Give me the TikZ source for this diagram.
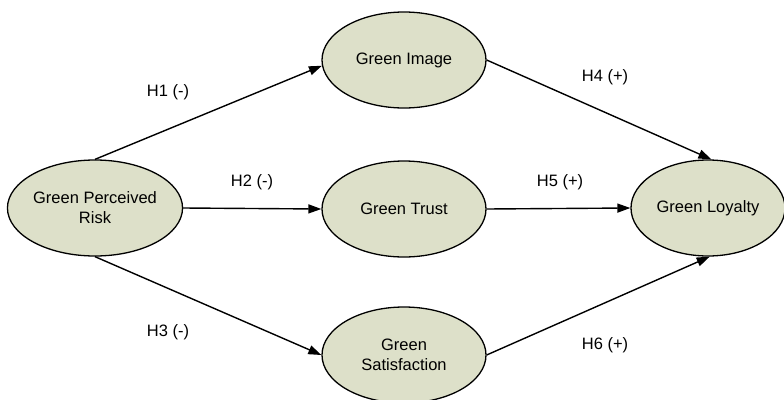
\documentclass[tikz,border=0pt]{standalone}
\usepackage{fontspec}
\setmainfont{Liberation Sans}
\usetikzlibrary{shapes.geometric,arrows.meta}
\definecolor{ellfill}{RGB}{221,224,201}
\begin{document}
\begin{tikzpicture}[x=1pt,y=-1pt,
  construct/.style={ellipse,draw=black,line width=1.3pt,fill=ellfill,inner sep=0pt,
    minimum width=164pt,minimum height=96pt,align=center,
    font=\fontsize{16.5}{20}\selectfont},
  link/.style={line width=1.4pt,-{Triangle[length=13pt,width=9pt]}},
  hyp/.style={font=\fontsize{16.5}{20}\selectfont}]
\useasboundingbox (0,0) rectangle (784,399);
\node[construct] (gpr) at (95,208) {Green Perceived\\Risk};
\node[construct] (img) at (404,60) {Green Image};
\node[construct] (trust) at (404,209) {Green Trust};
\node[construct] (sat) at (404,355) {Green\\Satisfaction};
\node[construct,minimum width=154pt] (loy) at (708,208) {Green Loyalty};
\draw[link] (gpr.north) -- (img.184);
\draw[link] (gpr.east) -- (trust.west);
\draw[link] (gpr.south) -- (sat.west);
\draw[link] (img.east) -- (loy.86);
\draw[link] (trust.east) -- (loy.west);
\draw[link] (sat.east) -- (loy.272);
\node[hyp] (h1) at (168,92) {H1 (-)};
\node[hyp] (h2) at (252,182) {H2 (-)};
\node[hyp] (h3) at (168,332) {H3 (-)};
\node[hyp] (h4) at (605,77) {H4 (+)};
\node[hyp] (h5) at (560,182) {H5 (+)};
\node[hyp] (h6) at (605,345) {H6 (+)};
\end{tikzpicture}
\end{document}
